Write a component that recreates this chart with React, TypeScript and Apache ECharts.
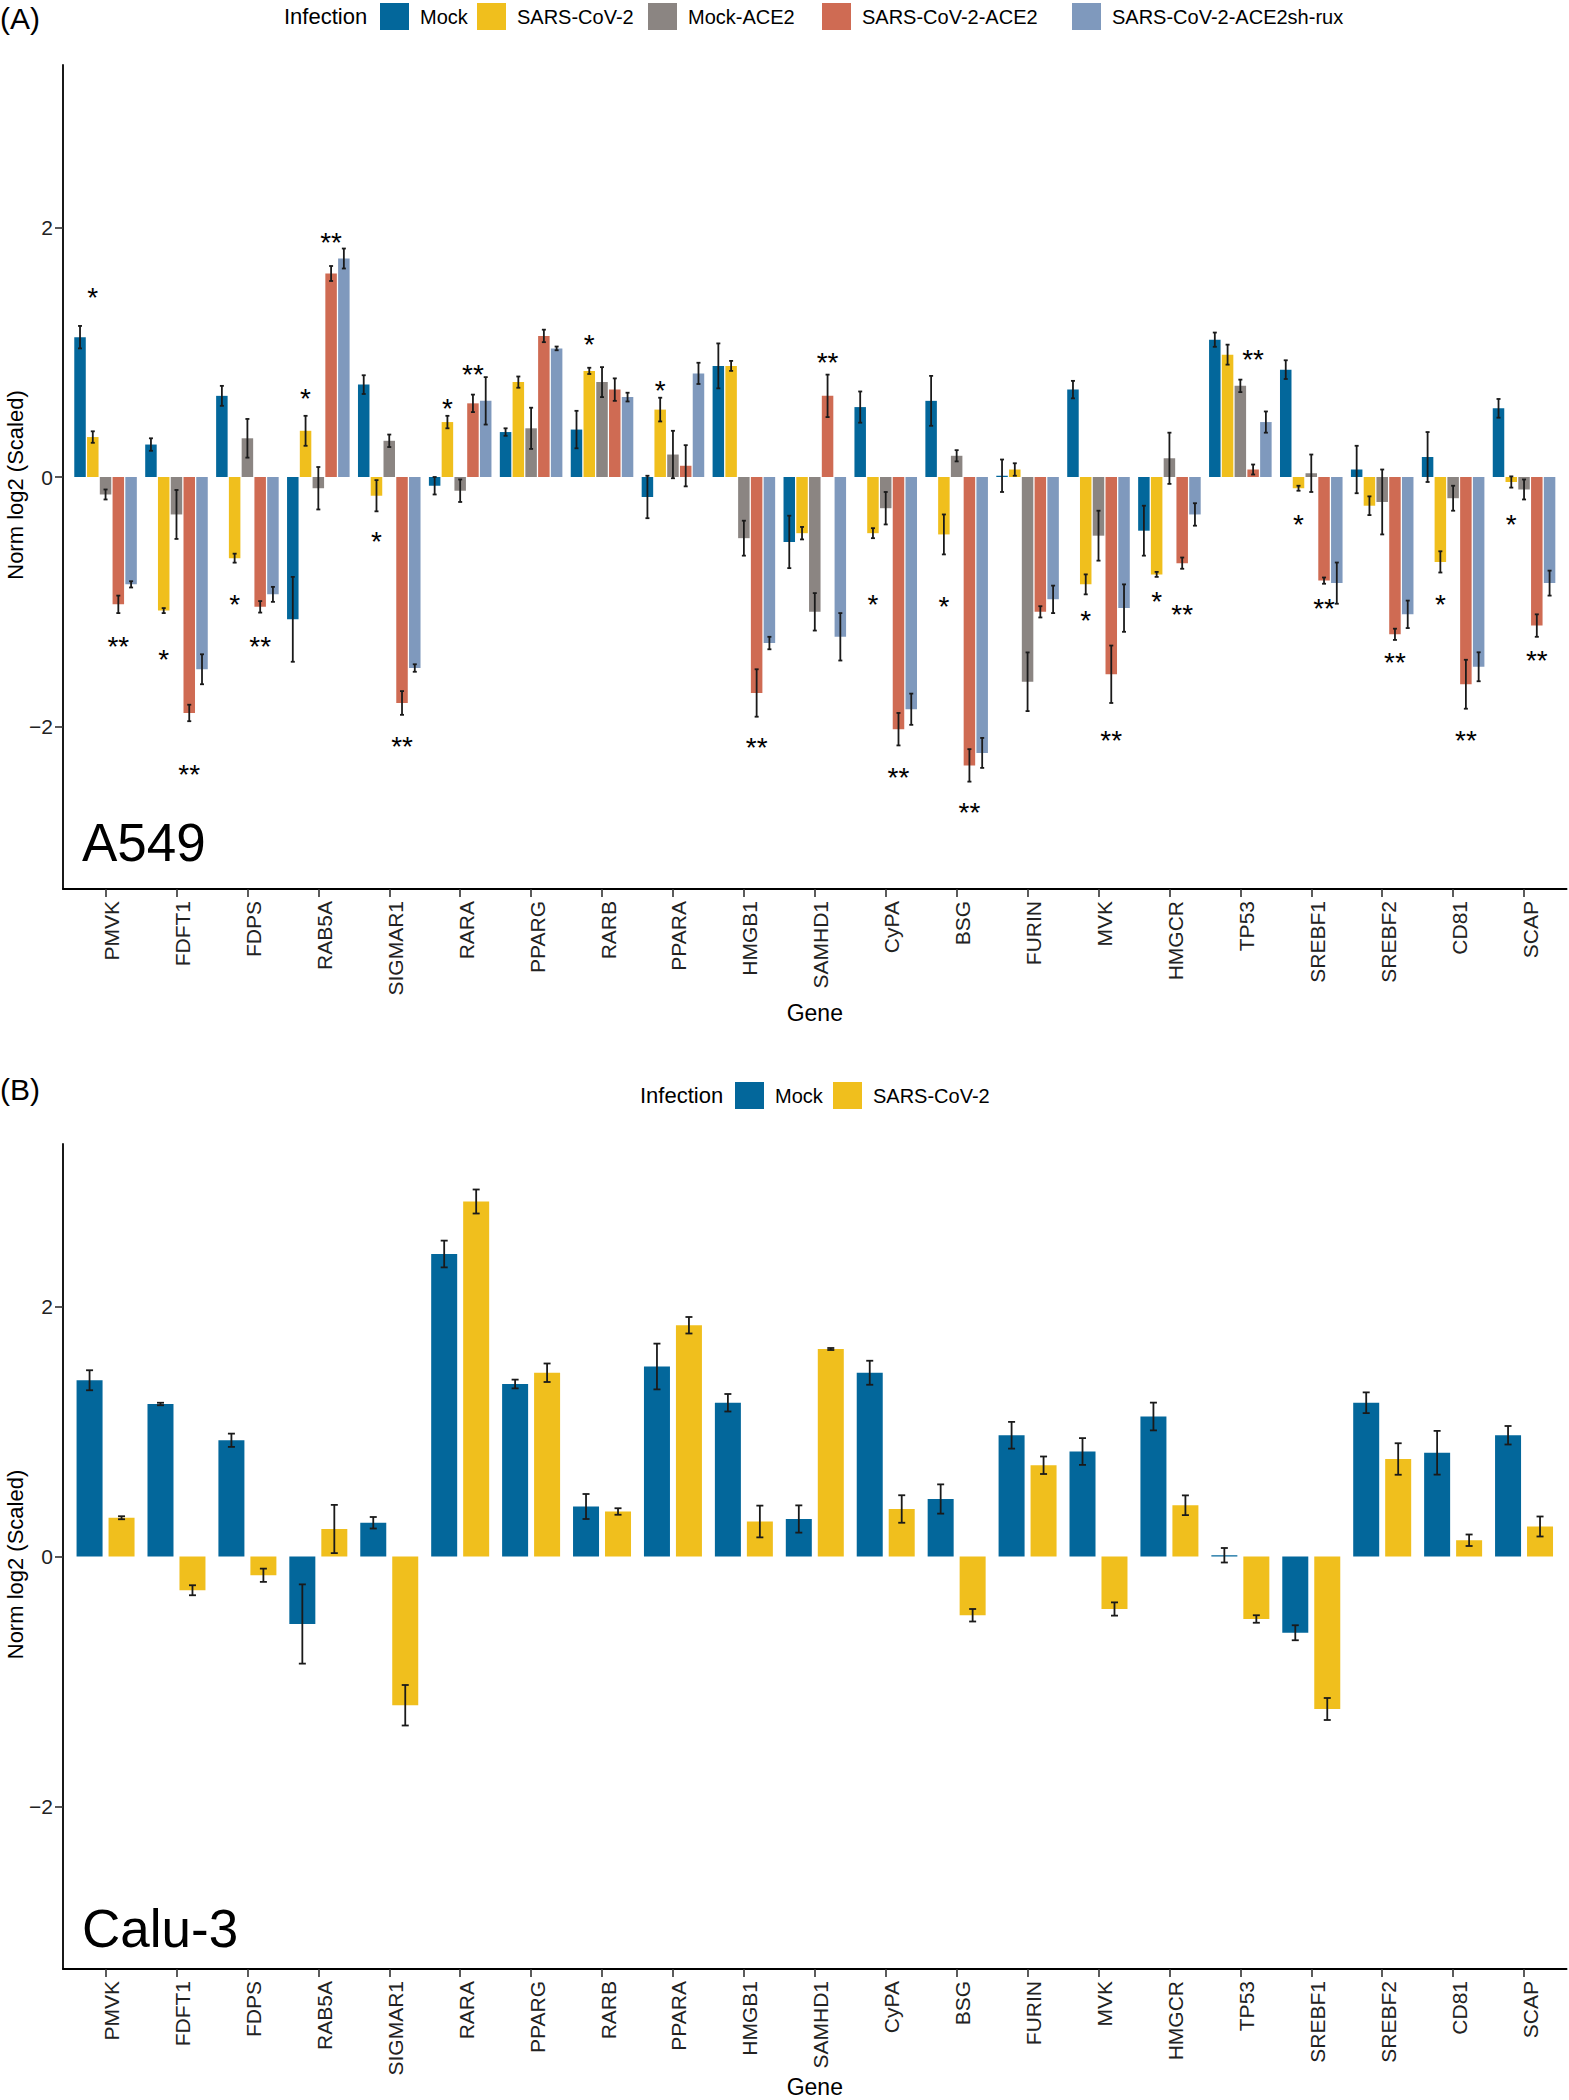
import React, { useEffect, useRef } from "react";
import * as echarts from "echarts";

const FONT = "'Liberation Sans', Arial, Helvetica, sans-serif";

// ---------- data ----------
const genes = ["PMVK", "FDFT1", "FDPS", "RAB5A", "SIGMAR1", "RARA", "PPARG", "RARB", "PPARA", "HMGB1", "SAMHD1", "CyPA", "BSG", "FURIN", "MVK", "HMGCR", "TP53", "SREBF1", "SREBF2", "CD81", "SCAP"];

const infectionA = ["Mock", "SARS-CoV-2", "Mock-ACE2", "SARS-CoV-2-ACE2", "SARS-CoV-2-ACE2sh-rux"];
const infectionB = ["Mock", "SARS-CoV-2"];

// Panel A: A549
const a549Mock = [1.12, 0.26, 0.65, -1.14, 0.74, -0.07, 0.36, 0.38, -0.16, 0.89, -0.52, 0.56, 0.61, 0.01, 0.70, -0.43, 1.10, 0.86, 0.06, 0.16, 0.55];
const a549MockSe = [0.09, 0.05, 0.08, 0.34, 0.075, 0.07, 0.03, 0.15, 0.17, 0.18, 0.21, 0.125, 0.2, 0.13, 0.07, 0.2, 0.057, 0.075, 0.19, 0.2, 0.075];
const a549Sars = [0.32, -1.07, -0.65, 0.37, -0.15, 0.44, 0.76, 0.85, 0.54, 0.89, -0.45, -0.45, -0.46, 0.06, -0.86, -0.78, 0.98, -0.09, -0.23, -0.68, -0.04];
const a549SarsSe = [0.046, 0.02, 0.036, 0.12, 0.125, 0.05, 0.045, 0.025, 0.095, 0.04, 0.05, 0.04, 0.16, 0.05, 0.08, 0.02, 0.08, 0.02, 0.075, 0.085, 0.045];
const a549MockAce2 = [-0.14, -0.30, 0.31, -0.09, 0.29, -0.11, 0.39, 0.76, 0.18, -0.49, -1.08, -0.25, 0.17, -1.64, -0.47, 0.15, 0.73, 0.03, -0.20, -0.17, -0.10];
const a549MockAce2Se = [0.04, 0.196, 0.155, 0.17, 0.05, 0.09, 0.165, 0.12, 0.19, 0.14, 0.15, 0.13, 0.045, 0.235, 0.2, 0.205, 0.05, 0.15, 0.26, 0.1, 0.08];
const a549SarsAce2 = [-1.02, -1.89, -1.04, 1.63, -1.81, 0.59, 1.13, 0.70, 0.09, -1.73, 0.65, -2.02, -2.31, -1.08, -1.58, -0.69, 0.06, -0.83, -1.26, -1.66, -1.19];
const a549SarsAce2Se = [0.07, 0.066, 0.046, 0.06, 0.095, 0.07, 0.05, 0.09, 0.165, 0.19, 0.17, 0.13, 0.13, 0.045, 0.23, 0.045, 0.04, 0.025, 0.045, 0.196, 0.09];
const a549Rux = [-0.86, -1.54, -0.94, 1.75, -1.53, 0.61, 1.03, 0.64, 0.83, -1.33, -1.28, -1.86, -2.21, -0.98, -1.05, -0.30, 0.44, -0.85, -1.10, -1.52, -0.85];
const a549RuxSe = [0.025, 0.12, 0.06, 0.08, 0.03, 0.19, 0.015, 0.035, 0.085, 0.05, 0.19, 0.125, 0.12, 0.11, 0.19, 0.09, 0.085, 0.165, 0.11, 0.116, 0.1];

// significance marks in panel A ("*" over SARS-CoV-2 bar, "**" over SARS-CoV-2-ACE2 bar)
const star1Genes = ["PMVK", "FDFT1", "FDPS", "RAB5A", "SIGMAR1", "RARA", "RARB", "PPARA", "CyPA", "BSG", "MVK", "HMGCR", "SREBF1", "CD81", "SCAP"];
const star1Values = [1.49, -1.41, -0.97, 0.68, -0.47, 0.60, 1.11, 0.74, -0.97, -0.99, -1.10, -0.95, -0.33, -0.97, -0.33];
const star2Genes = ["PMVK", "FDFT1", "FDPS", "RAB5A", "SIGMAR1", "RARA", "HMGB1", "SAMHD1", "CyPA", "BSG", "MVK", "HMGCR", "TP53", "SREBF1", "SREBF2", "CD81", "SCAP"];
const star2Values = [-1.31, -2.33, -1.31, 1.93, -2.11, 0.87, -2.12, 0.97, -2.36, -2.64, -2.06, -1.05, 0.99, -1.0, -1.44, -2.06, -1.42];

// Panel B: Calu-3
const calu3Mock = [1.41, 1.22, 0.93, -0.54, 0.27, 2.42, 1.38, 0.40, 1.52, 1.23, 0.30, 1.47, 0.46, 0.97, 0.84, 1.12, 0.01, -0.61, 1.23, 0.83, 0.97];
const calu3MockSe = [0.08, 0.01, 0.053, 0.317, 0.046, 0.107, 0.035, 0.1, 0.183, 0.07, 0.109, 0.096, 0.117, 0.107, 0.107, 0.111, 0.058, 0.06, 0.083, 0.175, 0.074];
const calu3Sars = [0.31, -0.27, -0.15, 0.22, -1.19, 2.84, 1.47, 0.36, 1.85, 0.28, 1.66, 0.38, -0.47, 0.73, -0.42, 0.41, -0.50, -1.22, 0.78, 0.13, 0.24];
const calu3SarsSe = [0.012, 0.04, 0.053, 0.193, 0.162, 0.096, 0.074, 0.026, 0.066, 0.127, 0.008, 0.11, 0.05, 0.07, 0.053, 0.079, 0.03, 0.088, 0.126, 0.046, 0.08];

const yTicks = [-2, 0, 2];

// ---------- styles / layout ----------
const palette: Record<string, string> = {
  "Mock": "#03679b",
  "SARS-CoV-2": "#f0bf1d",
  "Mock-ACE2": "#8b8582",
  "SARS-CoV-2-ACE2": "#cf6b53",
  "SARS-CoV-2-ACE2sh-rux": "#7f99bd",
};

const gridA = { left: 63, top: 65, width: 1503.6, height: 824 };
const gridB = { left: 63, top: 1144, width: 1503.6, height: 825 };
const BAR_A = 11.5, GAP_A = 0.11;
const BAR_B = 26, GAP_B = 0.23;
const legendLeftA = [380, 477, 648, 822, 1072];
const legendLeftB = [735, 833];

function barSeries(names: string[], values: number[][], axis: number, bw: number, gap: number) {
  return names.map((name, si) => ({
    type: "bar",
    name,
    xAxisIndex: axis,
    yAxisIndex: axis,
    data: values[si].map((v, i) => [i, v]),
    barWidth: bw,
    barGap: `${gap * 100}%`,
    itemStyle: { color: palette[name] },
    silent: true,
    z: 2,
  }));
}

function errorSeries(axis: number, values: number[][], errs: number[][], bw: number, gap: number, capHalf: number) {
  const n = values.length;
  const slot = bw * (1 + gap);
  const data: number[][] = [];
  values.forEach((arr, si) => arr.forEach((v, i) => data.push([i, v, errs[si][i], si])));
  return {
    type: "custom",
    xAxisIndex: axis,
    yAxisIndex: axis,
    data,
    encode: { x: 0, y: 1 },
    silent: true,
    z: 5,
    renderItem: (params: any, api: any) => {
      const x = api.value(0), y = api.value(1), e = api.value(2), si = api.value(3);
      const cx = api.coord([x, y])[0] + (si - (n - 1) / 2) * slot;
      const yt = api.coord([x, y + e])[1];
      const yb = api.coord([x, y - e])[1];
      const st = { stroke: "#1a1a1a", lineWidth: 1.8 };
      return {
        type: "group",
        children: [
          { type: "line", shape: { x1: cx, y1: yt, x2: cx, y2: yb }, style: st },
          { type: "line", shape: { x1: cx - capHalf, y1: yt, x2: cx + capHalf, y2: yt }, style: st },
          { type: "line", shape: { x1: cx - capHalf, y1: yb, x2: cx + capHalf, y2: yb }, style: st },
        ],
      };
    },
  };
}

function starSeries(list: string[], vals: number[], si: number, label: string) {
  const slot = BAR_A * (1 + GAP_A);
  const fs = 28;
  return {
    type: "custom",
    xAxisIndex: 0,
    yAxisIndex: 0,
    data: list.map((g, k) => [genes.indexOf(g), vals[k]]),
    encode: { x: 0, y: 1 },
    silent: true,
    z: 6,
    renderItem: (params: any, api: any) => {
      const c = api.coord([api.value(0), api.value(1)]);
      return {
        type: "text",
        x: c[0] + (si - 2) * slot,
        y: c[1] + 0.22 * fs,
        style: { text: label, fill: "#000", fontSize: fs, fontFamily: FONT, align: "center", verticalAlign: "middle" },
      };
    },
  };
}

function xAxisCfg(gi: number, nameGap: number) {
  const idx = genes.map((_, i) => i);
  return {
    type: "value",
    gridIndex: gi,
    min: -0.6,
    max: 20.6,
    axisLine: { show: true, onZero: false, lineStyle: { color: "#000", width: 1.8 } },
    axisTick: { show: true, customValues: idx, length: 8, lineStyle: { color: "#333", width: 1.6 } },
    axisLabel: {
      show: true,
      customValues: idx,
      formatter: (v: number) => genes[Math.round(v)] ?? "",
      rotate: 90,
      margin: 12,
      fontSize: 21,
      fontFamily: FONT,
      color: "#222",
      verticalAlign: "top",
      lineHeight: 12,
    },
    splitLine: { show: false },
    name: "Gene",
    nameLocation: "middle",
    nameGap,
    nameMoveOverlap: false,
    nameTextStyle: { fontSize: 23, fontFamily: FONT, color: "#000" },
  };
}

function yAxisCfg(gi: number) {
  return {
    type: "value",
    gridIndex: gi,
    min: -3.3,
    max: 3.3,
    axisLine: { show: true, onZero: false, lineStyle: { color: "#000", width: 1.8 } },
    axisTick: { show: true, customValues: yTicks, length: 8, lineStyle: { color: "#333", width: 1.6 } },
    axisLabel: {
      show: true,
      customValues: yTicks,
      formatter: (v: number) => (v < 0 ? "\u2212" + Math.abs(v) : String(v)),
      margin: 10,
      fontSize: 21,
      fontFamily: FONT,
      color: "#222",
    },
    splitLine: { show: false },
    name: "Norm log2 (Scaled)",
    nameLocation: "middle",
    nameRotate: 90,
    nameGap: 37,
    nameMoveOverlap: false,
    nameTextStyle: { fontSize: 22, fontFamily: FONT, color: "#000", padding: [0, 16, 0, 0] },
  };
}

function legendCfg(name: string, left: number, top: number) {
  return {
    data: [name],
    left,
    top,
    padding: 0,
    icon: "rect",
    itemWidth: 29,
    itemHeight: 27,
    selectedMode: false,
    textStyle: { fontSize: 20, fontFamily: FONT, color: "#000", padding: [0, 0, 0, 6] },
  };
}

function txt(text: string, x: number, y: number, fontSize: number, align = "left") {
  return {
    type: "text",
    x,
    y,
    silent: true,
    style: { text, fontSize, fontFamily: FONT, fill: "#000", align, verticalAlign: "middle" },
  };
}

export default function App() {
  const ref = useRef<HTMLDivElement>(null);

  useEffect(() => {
    if (!ref.current) return;
    const chart = echarts.init(ref.current, null, { renderer: "svg" });

    const valsA = [a549Mock, a549Sars, a549MockAce2, a549SarsAce2, a549Rux];
    const errsA = [a549MockSe, a549SarsSe, a549MockAce2Se, a549SarsAce2Se, a549RuxSe];
    const valsB = [calu3Mock, calu3Sars];
    const errsB = [calu3MockSe, calu3SarsSe];

    const option: any = {
      animation: false,
      backgroundColor: "#ffffff",
      textStyle: { fontFamily: FONT },
      grid: [
        { ...gridA, containLabel: false, outerBoundsMode: "none" },
        { ...gridB, containLabel: false, outerBoundsMode: "none" },
      ],
      xAxis: [xAxisCfg(0, 112), xAxisCfg(1, 106)],
      yAxis: [yAxisCfg(0), yAxisCfg(1)],
      legend: [
        ...infectionA.map((n, i) => legendCfg(n, legendLeftA[i], 3)),
        ...infectionB.map((n, i) => legendCfg(n, legendLeftB[i], 1082)),
      ],
      graphic: [
        txt("(A)", 0, 18, 30),
        txt("(B)", 0, 1089, 30),
        txt("Infection", 284, 16, 22),
        txt("Infection", 640, 1095, 22),
        txt("A549", 82, 842, 53),
        txt("Calu-3", 82, 1928, 53),
      ],
      series: [
        ...barSeries(infectionA, valsA, 0, BAR_A, GAP_A),
        errorSeries(0, valsA, errsA, BAR_A, GAP_A, 2),
        starSeries(star1Genes, star1Values, 1, "*"),
        starSeries(star2Genes, star2Values, 3, "**"),
        ...barSeries(infectionB, valsB, 1, BAR_B, GAP_B),
        errorSeries(1, valsB, errsB, BAR_B, GAP_B, 3.5),
      ],
    };

    chart.setOption(option);
    return () => chart.dispose();
  }, []);

  return (
    <div
      ref={ref}
      style={{ position: "absolute", left: 0, top: 0, width: 1569, height: 2100, background: "#fff" }}
    />
  );
}
